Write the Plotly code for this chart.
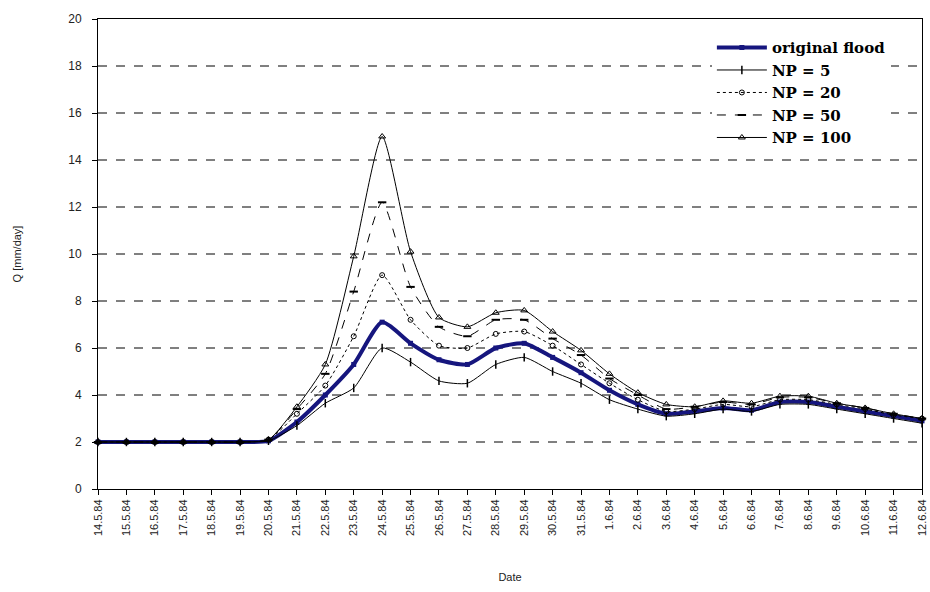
import plotly.graph_objects as go

dates = ["14.5.84", "15.5.84", "16.5.84", "17.5.84", "18.5.84", "19.5.84", "20.5.84",
         "21.5.84", "22.5.84", "23.5.84", "24.5.84", "25.5.84", "26.5.84", "27.5.84",
         "28.5.84", "29.5.84", "30.5.84", "31.5.84", "1.6.84", "2.6.84", "3.6.84",
         "4.6.84", "5.6.84", "6.6.84", "7.6.84", "8.6.84", "9.6.84", "10.6.84",
         "11.6.84", "12.6.84"]

original = [2.0, 2.0, 2.0, 2.0, 2.0, 2.0, 2.05, 2.85, 4.0, 5.3, 7.1, 6.2, 5.5, 5.3,
            6.0, 6.2, 5.6, 4.95, 4.2, 3.6, 3.2, 3.3, 3.45, 3.35, 3.7, 3.7, 3.5, 3.3,
            3.1, 2.9]
np5 = [2.0, 2.0, 2.0, 2.0, 2.0, 2.0, 2.05, 2.7, 3.65, 4.3, 6.0, 5.4, 4.6, 4.5,
       5.3, 5.6, 5.0, 4.5, 3.8, 3.4, 3.1, 3.2, 3.4, 3.3, 3.6, 3.6, 3.4, 3.2,
       3.0, 2.8]
np20 = [2.0, 2.0, 2.0, 2.0, 2.0, 2.0, 2.1, 3.2, 4.4, 6.5, 9.1, 7.2, 6.1, 6.0,
        6.6, 6.7, 6.1, 5.3, 4.5, 3.8, 3.3, 3.4, 3.6, 3.5, 3.8, 3.8, 3.6, 3.4,
        3.15, 3.0]
np50 = [2.0, 2.0, 2.0, 2.0, 2.0, 2.0, 2.1, 3.4, 4.9, 8.4, 12.2, 8.6, 6.9, 6.5,
        7.2, 7.2, 6.4, 5.7, 4.7, 4.0, 3.4, 3.5, 3.7, 3.6, 3.9, 3.9, 3.65, 3.45,
        3.2, 3.0]
np100 = [2.0, 2.0, 2.0, 2.0, 2.0, 2.0, 2.1, 3.5, 5.3, 9.9, 15.0, 10.1, 7.3, 6.9,
         7.5, 7.6, 6.7, 5.9, 4.9, 4.1, 3.6, 3.5, 3.75, 3.65, 3.95, 3.95, 3.65, 3.45,
         3.2, 3.0]

yticks = [0, 2, 4, 6, 8, 10, 12, 14, 16, 18, 20]
grid_levels = [2, 4, 6, 8, 10, 12, 14, 16, 18]

fig = go.Figure()

fig.add_trace(go.Scatter(
    x=dates, y=original, name="original flood", mode="lines+markers",
    line=dict(color="#16167e", width=4, shape="spline", smoothing=0.6),
    marker=dict(symbol="square", size=5, color="#16167e"), cliponaxis=False))
fig.add_trace(go.Scatter(
    x=dates, y=np5, name="NP = 5", mode="lines+markers",
    line=dict(color="black", width=1, shape="spline", smoothing=0.6),
    marker=dict(symbol="line-ns-open", size=6, color="black", line=dict(width=1.5)),
    cliponaxis=False))
fig.add_trace(go.Scatter(
    x=dates, y=np20, name="NP = 20", mode="lines+markers",
    line=dict(color="black", width=1, dash="dot", shape="spline", smoothing=0.6),
    marker=dict(symbol="circle-open", size=5, color="black", line=dict(width=1)),
    cliponaxis=False))
fig.add_trace(go.Scatter(
    x=dates, y=np50, name="NP = 50", mode="lines+markers",
    line=dict(color="black", width=1, dash="dash", shape="spline", smoothing=0.6),
    marker=dict(symbol="line-ew-open", size=6, color="black", line=dict(width=2)),
    cliponaxis=False))
fig.add_trace(go.Scatter(
    x=dates, y=np100, name="NP = 100", mode="lines+markers",
    line=dict(color="black", width=1, shape="spline", smoothing=0.6),
    marker=dict(symbol="triangle-up-open", size=6, color="black", line=dict(width=1)),
    cliponaxis=False))

for g in grid_levels:
    fig.add_shape(type="line", xref="paper", yref="y", x0=0, x1=1, y0=g, y1=g,
                  line=dict(color="black", width=1, dash="dash"), layer="below")

fig.update_layout(
    width=930, height=592,
    margin=dict(l=98, r=2, t=19, b=103),
    paper_bgcolor="white", plot_bgcolor="white",
    showlegend=True,
    legend=dict(x=0.745, y=0.974, xanchor="left", yanchor="top",
                bgcolor="white", borderwidth=0,
                font=dict(family="DejaVu Serif", size=15, color="black", weight="bold"),
                itemwidth=50, tracegroupgap=0),
    font=dict(family="Liberation Sans", color="#222222"),
    xaxis=dict(type="category", range=[0, 29], tickangle=-90,
               tickfont=dict(size=11, color="#222222"),
               showline=True, linecolor="black", linewidth=1, mirror=True,
               ticks="outside", ticklen=5, tickcolor="black",
               showgrid=False, zeroline=False,
               title=dict(text="Date", font=dict(size=11), standoff=38)),
    yaxis=dict(range=[0, 20], tickvals=yticks,
               tickfont=dict(size=12, color="#222222"),
               showline=True, linecolor="black", linewidth=1, mirror=True,
               ticks="outside", ticklen=5, tickcolor="black",
               ticklabelstandoff=8,
               showgrid=False, zeroline=False,
               title=dict(text="Q [mm/day]", font=dict(size=11), standoff=44)),
)

fig.write_html("out.html")
